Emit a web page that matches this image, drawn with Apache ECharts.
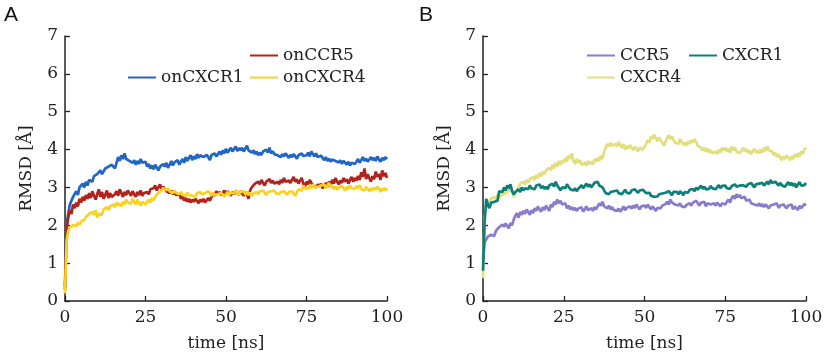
<!DOCTYPE html>
<html>
<head>
<meta charset="utf-8">
<script src="https://cdn.jsdelivr.net/npm/echarts@6/dist/echarts.min.js"></script>
<style>html,body{margin:0;padding:0;background:#fff}#c{width:827px;height:360px}</style>
</head>
<body>
<div id="c"></div>
<script>
// sampling times (ns), one sample every 0.5 ns from 0 to 100
const timeStepNs = 0.5;
const sampleCount = 201;
const timeNs = [];
for (let i = 0; i < sampleCount; i++) timeNs.push(i * timeStepNs);

const xTicks = [0, 25, 50, 75, 100];
const yTicks = [0, 1, 2, 3, 4, 5, 6, 7];

// Panel A
const onCXCR1 = [
0.4,2.05,2.3,2.55,2.5,2.75,2.7,2.9,2.8,3.0,
2.95,3.1,3.0,3.15,3.05,3.2,3.25,3.15,3.3,3.25,
3.35,3.3,3.45,3.35,3.4,3.5,3.45,3.55,3.5,3.6,
3.55,3.5,3.65,3.8,3.7,3.85,3.75,3.9,3.75,3.8,
3.7,3.75,3.65,3.72,3.6,3.7,3.62,3.75,3.65,3.6,
3.68,3.55,3.62,3.5,3.58,3.48,3.6,3.52,3.45,3.55,
3.5,3.62,3.55,3.65,3.52,3.6,3.7,3.58,3.66,3.62,
3.72,3.6,3.68,3.75,3.65,3.8,3.7,3.78,3.85,3.72,
3.82,3.75,3.88,3.78,3.85,3.9,3.8,3.75,3.86,3.8,
3.72,3.85,3.8,3.9,3.82,3.88,3.95,3.86,3.98,3.9,
4.02,3.92,3.98,4.05,3.95,4.0,4.08,3.96,4.04,3.98,
4.05,3.95,4.0,4.1,3.98,4.02,3.92,3.98,3.88,3.95,
3.85,3.92,3.86,3.95,3.9,4.0,3.92,4.05,3.9,3.96,
3.88,3.92,3.85,3.9,3.8,3.88,3.82,3.9,3.84,3.78,
3.86,3.8,3.88,3.82,3.76,3.85,3.8,3.9,3.83,3.78,
3.85,3.92,3.82,3.95,3.88,3.82,3.9,3.8,3.75,3.84,
3.78,3.72,3.8,3.7,3.76,3.68,3.74,3.78,3.7,3.75,
3.66,3.72,3.62,3.7,3.65,3.6,3.68,3.58,3.65,3.7,
3.62,3.68,3.75,3.65,3.72,3.8,3.7,3.76,3.68,3.74,
3.8,3.72,3.78,3.7,3.82,3.74,3.68,3.78,3.72,3.8,
3.75];
const onCCR5 = [
0.3,1.9,2.2,2.4,2.3,2.55,2.45,2.6,2.5,2.7,
2.6,2.75,2.65,2.8,2.7,2.85,2.72,2.9,2.78,2.68,
2.82,2.95,2.75,2.88,2.7,2.8,2.92,2.72,2.85,2.75,
2.7,2.82,2.9,2.78,2.95,2.85,2.75,2.88,2.8,2.92,
2.85,2.78,2.9,2.82,2.75,2.88,2.8,2.92,2.78,2.85,
2.8,2.88,2.82,2.95,2.9,2.98,3.05,2.92,3.0,3.08,
2.95,3.02,2.98,2.9,2.95,2.85,2.92,2.82,2.88,2.8,
2.75,2.82,2.7,2.78,2.65,2.72,2.62,2.7,2.6,2.68,
2.62,2.7,2.65,2.58,2.68,2.62,2.7,2.6,2.66,2.72,
2.65,2.7,2.85,2.78,2.9,2.82,2.88,2.8,2.86,2.92,
2.82,2.9,2.85,2.78,2.88,2.82,2.92,2.86,2.8,2.9,
2.85,2.78,2.88,2.82,2.7,2.92,3.0,2.95,3.1,3.05,
3.15,3.08,3.2,3.12,3.05,3.15,3.1,3.22,3.12,3.18,
3.1,3.05,3.15,3.08,3.2,3.12,3.25,3.15,3.1,3.18,
3.12,3.2,3.28,3.15,3.22,3.1,3.18,3.25,3.1,3.02,
3.15,3.08,3.2,3.12,3.05,3.1,3.0,3.08,3.02,3.1,
2.98,3.05,3.12,3.02,3.15,3.08,3.2,3.1,3.25,3.15,
3.08,3.18,3.12,3.25,3.15,3.22,3.1,3.2,3.28,3.15,
3.25,3.18,3.3,3.2,3.4,3.28,3.5,3.22,3.35,3.25,
3.15,3.3,3.22,3.42,3.28,3.35,3.2,3.45,3.3,3.38,
3.25];
const onCXCR4 = [
0.2,1.6,1.85,1.95,1.9,2.0,2.05,1.98,2.08,2.02,
2.1,2.05,2.15,2.22,2.18,2.3,2.25,2.35,2.28,2.4,
2.2,2.3,2.35,2.28,2.42,2.38,2.48,2.4,2.5,2.45,
2.55,2.48,2.6,2.52,2.58,2.5,2.62,2.55,2.68,2.6,
2.65,2.58,2.7,2.62,2.55,2.68,2.6,2.52,2.62,2.58,
2.55,2.62,2.68,2.6,2.72,2.66,2.75,2.82,2.78,2.88,
2.9,2.98,3.02,2.92,2.98,2.9,2.95,2.85,2.92,2.86,
2.9,2.82,2.88,2.8,2.85,2.78,2.86,2.8,2.84,2.78,
2.82,2.76,2.85,2.8,2.88,2.82,2.78,2.85,2.8,2.9,
2.84,2.78,2.86,2.8,2.75,2.82,2.78,2.85,2.8,2.76,
2.82,2.88,2.8,2.86,2.9,2.84,2.92,2.86,2.8,2.88,
2.84,2.9,2.82,2.88,2.8,2.86,2.78,2.84,2.8,2.88,
2.82,2.9,2.85,2.92,2.86,2.8,2.88,2.84,2.9,2.86,
2.92,2.85,2.9,2.82,2.88,2.84,2.9,2.85,2.8,2.88,
2.84,2.9,2.86,2.78,2.88,2.95,3.0,2.92,3.05,2.98,
3.02,2.96,3.05,2.98,3.08,3.0,2.95,3.02,2.98,3.05,
3.0,3.08,2.98,3.05,3.12,3.0,3.06,2.96,3.02,2.94,
3.0,2.95,3.04,2.98,2.92,3.02,2.96,3.05,2.98,3.02,
2.96,3.04,2.98,3.06,2.95,3.0,2.92,3.02,2.96,2.9,
2.98,2.92,3.0,2.94,3.02,2.96,2.88,2.98,2.92,2.98,
2.92];

// Panel B
const CCR5 = [
1.1,1.55,1.6,1.7,1.65,1.75,1.8,1.72,1.85,1.8,
1.95,1.9,2.02,1.96,2.05,1.98,1.92,2.06,2.0,2.15,
2.25,2.32,2.2,2.35,2.28,2.38,2.3,2.42,2.35,2.28,
2.4,2.32,2.45,2.38,2.5,2.42,2.36,2.48,2.4,2.52,
2.45,2.38,2.55,2.48,2.62,2.55,2.68,2.58,2.65,2.55,
2.5,2.58,2.45,2.52,2.42,2.48,2.4,2.46,2.38,2.44,
2.4,2.48,2.36,2.42,2.5,2.4,2.35,2.45,2.38,2.48,
2.42,2.5,2.58,2.52,2.62,2.5,2.55,2.45,2.52,2.42,
2.48,2.4,2.45,2.38,2.44,2.36,2.42,2.5,2.4,2.46,
2.42,2.5,2.44,2.52,2.46,2.55,2.48,2.42,2.5,2.45,
2.52,2.46,2.55,2.48,2.42,2.5,2.44,2.38,2.46,2.5,
2.45,2.52,2.48,2.56,2.62,2.55,2.68,2.6,2.65,2.55,
2.6,2.52,2.58,2.5,2.55,2.48,2.54,2.5,2.58,2.52,
2.6,2.55,2.65,2.58,2.52,2.6,2.55,2.62,2.5,2.58,
2.62,2.55,2.5,2.58,2.52,2.6,2.55,2.5,2.58,2.62,
2.55,2.62,2.68,2.6,2.72,2.78,2.7,2.82,2.74,2.8,
2.72,2.68,2.75,2.65,2.6,2.68,2.58,2.62,2.55,2.6,
2.52,2.58,2.5,2.56,2.48,2.55,2.5,2.45,2.52,2.48,
2.55,2.5,2.58,2.46,2.52,2.48,2.55,2.5,2.45,2.52,
2.48,2.55,2.42,2.5,2.46,2.4,2.52,2.45,2.5,2.56,
2.52];
const CXCR1 = [
0.8,2.1,2.7,2.55,2.45,2.6,2.55,2.62,2.58,2.65,
2.9,2.95,2.88,3.0,2.92,3.05,2.98,3.08,2.9,2.82,
2.88,2.85,2.95,2.88,3.0,2.92,2.98,3.02,2.95,3.05,
2.98,3.02,2.95,3.05,3.0,3.08,2.98,3.04,2.96,3.02,
2.95,3.05,3.0,3.1,3.02,3.15,3.05,3.0,2.92,3.0,
3.05,2.98,3.08,3.02,2.95,3.0,2.92,2.98,2.9,2.96,
3.0,3.06,2.98,3.04,3.1,3.02,3.08,3.0,3.05,3.12,
3.08,3.15,3.05,3.1,3.0,2.92,2.85,2.9,2.82,2.88,
2.84,2.9,2.86,2.92,2.85,2.9,2.82,2.88,2.94,2.86,
2.9,2.84,2.92,2.88,2.95,2.9,2.86,2.92,2.88,2.94,
2.9,2.85,2.8,2.86,2.78,2.82,2.75,2.8,2.76,2.82,
2.78,2.84,2.8,2.86,2.82,2.9,2.85,2.8,2.88,2.84,
2.88,2.82,2.9,2.86,2.8,2.88,2.92,2.86,2.94,2.9,
2.96,2.9,3.0,2.94,2.98,3.05,2.96,3.02,2.95,3.0,
2.96,3.04,2.98,3.02,2.95,3.0,3.06,2.98,3.04,3.0,
3.05,2.98,3.02,2.96,3.04,3.0,3.08,3.02,2.98,3.05,
3.0,3.06,3.1,3.02,3.08,3.04,3.12,3.06,3.0,3.08,
3.04,3.1,3.06,3.12,3.05,3.1,3.15,3.08,3.2,3.12,
3.08,3.15,3.1,3.05,3.12,3.06,3.1,3.02,3.08,3.14,
3.06,3.12,3.04,3.1,3.0,3.08,3.14,3.05,3.1,3.06,
3.12];
const CXCR4 = [
0.6,2.2,2.45,2.6,2.55,2.7,2.65,2.75,2.68,2.8,
2.72,2.85,2.78,2.9,2.82,2.95,2.88,3.0,2.92,2.75,
2.7,2.92,3.0,3.1,3.05,3.15,3.08,3.2,3.12,3.22,
3.18,3.28,3.2,3.32,3.25,3.38,3.3,3.42,3.35,3.45,
3.4,3.52,3.45,3.6,3.5,3.65,3.55,3.7,3.6,3.72,
3.65,3.78,3.68,3.85,3.75,3.9,3.7,3.62,3.75,3.65,
3.72,3.6,3.55,3.65,3.58,3.7,3.62,3.68,3.6,3.75,
3.68,3.78,3.7,3.85,3.75,3.95,4.05,4.15,4.08,4.18,
4.1,4.05,4.15,4.08,4.2,4.12,4.05,4.15,4.0,4.1,
4.02,4.12,4.05,3.98,4.08,4.02,3.95,4.05,4.1,4.0,
4.08,4.15,4.25,4.18,4.35,4.28,4.4,4.3,4.22,4.32,
4.25,4.18,4.1,4.2,4.3,4.38,4.28,4.35,4.25,4.18,
4.22,4.15,4.28,4.2,4.12,4.18,4.1,4.22,4.15,4.25,
4.18,4.28,4.2,4.1,4.15,4.05,3.98,4.05,3.95,4.02,
3.92,3.98,3.9,3.85,3.95,3.88,4.0,3.92,4.05,3.98,
4.05,3.95,4.02,3.92,4.08,3.98,4.05,3.95,4.0,3.9,
3.98,4.05,3.95,4.02,3.92,3.98,3.88,3.95,4.02,3.92,
3.98,3.9,4.0,3.92,4.05,3.96,4.08,3.98,4.02,3.95,
3.85,3.92,3.8,3.88,3.78,3.72,3.82,3.75,3.85,3.78,
3.72,3.82,3.75,3.88,3.8,3.9,3.82,3.95,3.88,4.0,
4.05];

const FONT = 'DejaVu Serif';
const FSIZE = 17;
const TXT = '#222';

function pairs(vals) { return timeNs.map((t, i) => [t, vals[i]]); }

function xAxisFor(idx) {
  return {
    gridIndex: idx, type: 'value', min: xTicks[0], max: xTicks[xTicks.length - 1], interval: 25,
    name: 'time [ns]', nameLocation: 'middle', nameGap: 34,
    nameTextStyle: { fontFamily: FONT, fontSize: FSIZE, color: TXT },
    axisLine: { show: true, lineStyle: { color: '#222', width: 1.5 } },
    axisTick: { show: true, inside: true, length: 5, lineStyle: { color: '#222', width: 1.3 } },
    axisLabel: { fontFamily: FONT, fontSize: FSIZE, color: TXT, margin: 8 },
    splitLine: { show: false }
  };
}
function yAxisFor(idx) {
  return {
    gridIndex: idx, type: 'value', min: yTicks[0], max: yTicks[yTicks.length - 1], interval: 1,
    name: 'RMSD [Å]', nameLocation: 'middle', nameGap: 30,
    nameTextStyle: { fontFamily: FONT, fontSize: FSIZE, color: TXT },
    axisLine: { show: true, lineStyle: { color: '#222', width: 1.5 } },
    axisTick: { show: true, inside: true, length: 5, lineStyle: { color: '#222', width: 1.3 } },
    axisLabel: { fontFamily: FONT, fontSize: FSIZE, color: TXT, margin: 7 },
    splitLine: { show: false }
  };
}
function lineSeries(name, vals, color, idx) {
  return {
    name: name, type: 'line', xAxisIndex: idx, yAxisIndex: idx,
    data: pairs(vals), showSymbol: false, symbol: 'none', animation: false,
    lineStyle: { color: color, width: 2.7 }, itemStyle: { color: color }
  };
}
function legendFor(name, left, top) {
  return {
    data: [name], left: left, top: top, icon: 'rect', itemWidth: 28, itemHeight: 2,
    itemGap: 0, selectedMode: false, padding: 0,
    textStyle: { fontFamily: FONT, fontSize: FSIZE, color: TXT, padding: [0, 0, 0, 0] }
  };
}

const chart = echarts.init(document.getElementById('c'), null, { renderer: 'canvas' });
chart.setOption({
  backgroundColor: '#fff',
  animation: false,
  textStyle: { fontFamily: FONT },
  graphic: [
    { type: 'text', left: 4, top: 5, style: { text: 'A', fontFamily: 'Liberation Sans', fontSize: 21, fill: '#111' } },
    { type: 'text', left: 419, top: 5, style: { text: 'B', fontFamily: 'Liberation Sans', fontSize: 21, fill: '#111' } }
  ],
  grid: [
    { left: 65, right: 440, top: 36, bottom: 59 },
    { left: 483, right: 21, top: 36, bottom: 59 }
  ],
  xAxis: [xAxisFor(0), xAxisFor(1)],
  yAxis: [yAxisFor(0), yAxisFor(1)],
  legend: [
    legendFor('onCCR5', 250, 47),
    legendFor('onCXCR1', 128, 69),
    legendFor('onCXCR4', 250, 69),
    legendFor('CCR5', 587, 47),
    legendFor('CXCR1', 689, 47),
    legendFor('CXCR4', 587, 69)
  ],
  series: [
    lineSeries('onCXCR1', onCXCR1, '#2166c4', 0),
    lineSeries('onCCR5', onCCR5, '#b3221b', 0),
    lineSeries('onCXCR4', onCXCR4, '#fcd222', 0),
    lineSeries('CXCR4', CXCR4, '#e2e07e', 1),
    lineSeries('CCR5', CCR5, '#8a7bcb', 1),
    lineSeries('CXCR1', CXCR1, '#0f8079', 1)
  ]
});
</script>
</body>
</html>
